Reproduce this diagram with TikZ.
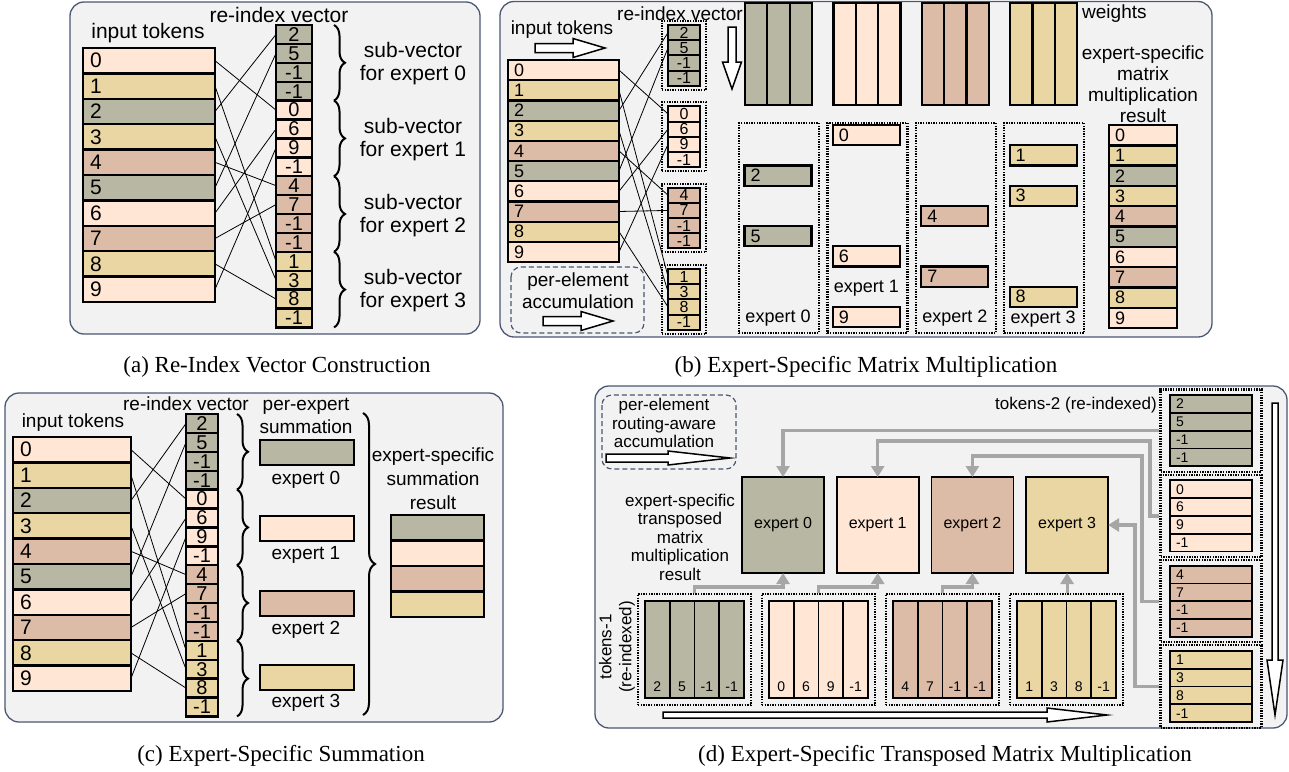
\documentclass[tikz,border=0pt]{standalone}
\usepackage{fontspec}
\setmainfont{Liberation Sans}
\newfontfamily\seriffont{Liberation Serif}
\usetikzlibrary{arrows.meta,decorations.pathreplacing,fit,calc}
\definecolor{cP}{HTML}{FFE6D5}
\definecolor{cT}{HTML}{E9D6A2}
\definecolor{cG}{HTML}{B7B7A3}
\definecolor{cR}{HTML}{DDBCA7}
\definecolor{bgc}{HTML}{F2F2F2}
\definecolor{frc}{HTML}{4A5874}
\definecolor{arc}{HTML}{A6A6A6}
\colorlet{g0}{cG}\colorlet{g1}{cP}\colorlet{g2}{cR}\colorlet{g3}{cT}
\newcommand\fsz[2]{\fontsize{#1}{#2}\selectfont}
% x1,x2,y,shaft half,head half,head length
\newcommand\harrow[6]{\draw[barrow] (#1,#3-#4) -- (#2-#6,#3-#4) -- (#2-#6,#3-#5) -- (#2,#3) -- (#2-#6,#3+#5) -- (#2-#6,#3+#4) -- (#1,#3+#4) -- cycle;}
% y1,y2,x,shaft half,head half,head length
\newcommand\varrow[6]{\draw[barrow] (#3-#4,#1) -- (#3-#4,#2-#6) -- (#3-#5,#2-#6) -- (#3,#2) -- (#3+#5,#2-#6) -- (#3+#4,#2-#6) -- (#3+#4,#1) -- cycle;}
\begin{document}
\begin{tikzpicture}[x=1pt,y=-1pt,
 panel/.style={draw=frc, fill=bgc, line width=1.3pt, rounded corners=14pt},
 cb/.style={draw=black, anchor=north west, inner sep=0pt, outer sep=0pt},
 conn/.style={draw=black, line width=0.8pt},
 brc/.style={draw=black, line width=2pt, decorate, decoration={brace, amplitude=#1}},
 dbox/.style={draw=black, line width=2.1pt, dash pattern=on 1.4pt off 1.2pt, inner sep=0pt},
 barrow/.style={draw=black, fill=white, line width=1.5pt, line join=miter},
 garrow/.style={draw=arc, line width=3.2pt, -{Triangle[width=13pt,length=11pt]}},
 txt/.style={inner sep=0pt, align=center},
]
\useasboundingbox (0,0) rectangle (1289,771);

%================ (a) =================
\draw[panel] (70,2) rectangle (480,334);
\node[txt, font=\fsz{21}{24}] (a-lt) at (148,33) {input tokens};
\node[txt, font=\fsz{21}{24}] (a-lr) at (279,15) {re-index vector};
\foreach \c [count=\i from 0] in {cP,cT,cG,cT,cR,cG,cP,cR,cT,cP}
  \node[cb, line width=2.4pt, fill=\c, minimum height=25.4pt, text width=118pt, inner xsep=7pt, align=left, font=\fsz{21}{24}] (a-t\i) at (83,48+25.4*\i) {\i};
\foreach \v [count=\k from 0] in {2,5,-1,-1,0,6,9,-1,4,7,-1,-1,1,3,8,-1} {
  \pgfmathtruncatemacro\g{\k/4}
  \node[cb, line width=2.4pt, fill=g\g, minimum width=36pt, minimum height=18.9pt, font=\fsz{20}{20}] (a-r\k) at (276,25+18.9*\k) {\v};
}
\foreach \k/\v in {0/2,1/5,4/0,5/6,6/9,8/4,9/7,12/1,13/3,14/8}
  \draw[conn] (a-t\v.east) -- (a-r\k.west);
\foreach \g in {0,1,2,3} {
  \draw[brc=11pt] (334,25+75.6*\g) -- (334,100.6+75.6*\g);
  \node[txt, font=\fsz{21}{23}] (a-s\g) at (413,64+75.6*\g) {sub-vector\\for expert \g};
}
\node[txt, font=\seriffont\fsz{23}{26}] (cap-a) at (277,367) {(a) Re-Index Vector Construction};

%================ (b) =================
\draw[panel] (500,1.5) rectangle (1212,337);
\node[txt, font=\fsz{19}{21}] (b-lt) at (562,30) {input tokens};
\node[txt, font=\fsz{19}{21}] (b-lr) at (680,14) {re-index vector};
\harrow{535}{605}{48}{4.5}{9.5}{32}
\varrow{27}{89}{732}{4}{9.5}{27}
\foreach \c [count=\i from 0] in {cP,cT,cG,cT,cR,cG,cP,cR,cT,cP}
  \node[cb, line width=2.2pt, fill=\c, minimum height=20.2pt, text width=99pt, inner xsep=6pt, align=left, font=\fsz{18}{20}] (b-t\i) at (508,60+20.2*\i) {\i};
\foreach \vals [count=\g from 0] in {{2,5,-1,-1},{0,6,9,-1},{4,7,-1,-1},{1,3,8,-1}} {
  \foreach \v [count=\j from 0] in \vals {
    \node[cb, line width=2pt, fill=g\g, minimum width=32pt, minimum height=15.2pt, font=\fsz{16}{16}] (b-r\g-\j) at (668,25+81.3*\g+15.2*\j) {\v};
  }
  \node[dbox, fit=(b-r\g-0)(b-r\g-3), inner xsep=6pt, inner ysep=4pt] (b-g\g) {};
}
\foreach \v/\g/\j in {2/0/0,5/0/1,0/1/0,6/1/1,9/1/2,4/2/0,7/2/1,1/3/0,3/3/1,8/3/2}
  \draw[conn] (b-t\v.east) -- (b-r\g-\j.west);
\foreach \c [count=\w from 0] in {cG,cP,cR,cT}
  \foreach \j in {0,1,2}
    \node[cb, line width=2.2pt, fill=\c, minimum width=22.33pt, minimum height=102pt] (b-w\w-\j) at (745+88.4*\w+22.33*\j,3) {};
\node[txt, anchor=west, font=\fsz{19}{21}] (b-lw) at (1082,14) {weights};
\node[txt, font=\fsz{19}{21}] (b-lm) at (1143,84) {expert-specific\\matrix\\multiplication\\result};
\foreach \e in {0,...,3}
  \node[dbox, anchor=north west, minimum width=80pt, minimum height=210pt] (b-e\e) at (738+88.4*\e,122) {};
\foreach \e/\r/\c in {0/2/cG,0/5/cG,1/0/cP,1/6/cP,1/9/cP,2/4/cR,2/7/cR,3/1/cT,3/3/cT,3/8/cT}
  \node[cb, line width=2.2pt, fill=\c, minimum height=20.2pt, text width=55pt, inner xsep=6pt, align=left, font=\fsz{18}{20}] (b-b\r) at (744.5+88.4*\e,125+20.2*\r) {\r};
\foreach \e/\y in {0/318,1/288,2/318,3/319}
  \node[txt, font=\fsz{18}{20}] (b-l\e) at (778+88.4*\e,\y) {expert \e};
\foreach \c [count=\i from 0] in {cP,cT,cG,cT,cR,cG,cP,cR,cT,cP}
  \node[cb, line width=2.4pt, fill=\c, minimum height=20.3pt, text width=56pt, inner xsep=6pt, align=left, font=\fsz{18}{20}] (b-o\i) at (1109,125+20.3*\i) {\i};
\draw[draw=frc, line width=1.2pt, dash pattern=on 5pt off 3pt, rounded corners=10pt] (511,267) rectangle (644,333);
\node[txt, font=\fsz{19}{22}] (b-la) at (578,291) {per-element\\accumulation};
\harrow{543}{613}{321}{4.5}{9.5}{32}
\node[txt, font=\seriffont\fsz{23}{26}] (cap-b) at (866,367) {(b) Expert-Specific Matrix Multiplication};

%================ (c) =================
\draw[panel] (5,393) rectangle (503,722);
\node[txt, font=\fsz{19}{21}] (c-lt) at (73,423) {input tokens};
\node[txt, font=\fsz{19}{21}] (c-lr) at (186,404) {re-index vector};
\foreach \c [count=\i from 0] in {cP,cT,cG,cT,cR,cG,cP,cR,cT,cP}
  \node[cb, line width=2.4pt, fill=\c, minimum height=25.4pt, text width=104pt, inner xsep=7pt, align=left, font=\fsz{21}{24}] (c-t\i) at (13,437+25.4*\i) {\i};
\foreach \v [count=\k from 0] in {2,5,-1,-1,0,6,9,-1,4,7,-1,-1,1,3,8,-1} {
  \pgfmathtruncatemacro\g{\k/4}
  \node[cb, line width=2.4pt, fill=g\g, minimum width=32pt, minimum height=18.9pt, font=\fsz{20}{20}] (c-r\k) at (186,414+18.9*\k) {\v};
}
\foreach \k/\v in {0/2,1/5,4/0,5/6,6/9,8/4,9/7,12/1,13/3,14/8}
  \draw[conn] (c-t\v.east) -- (c-r\k.west);
\foreach \g in {0,1,2,3}
  \draw[brc=11pt] (237,414+75.6*\g) -- (237,489.6+75.6*\g);
\node[txt, font=\fsz{19}{23}] (c-lp) at (306,416) {per-expert\\summation};
\foreach \c/\y/\ly [count=\e from 0] in {cG/440/480,cP/516/555,cR/591/630,cT/665/703} {
  \node[cb, line width=2.4pt, fill=\c, minimum width=94pt, minimum height=25pt] (c-b\e) at (260,\y) {};
  \node[txt, font=\fsz{19}{21}] (c-l\e) at (306,\ly) {expert \e};
}
\draw[brc=12pt] (363,413) -- (363,715);
\node[txt, font=\fsz{19}{24}] (c-lm) at (433,479) {expert-specific\\summation\\result};
\foreach \c [count=\i from 0] in {cG,cP,cR,cT}
  \node[cb, line width=2.4pt, fill=\c, minimum width=93pt, minimum height=25.5pt] (c-o\i) at (391,515+25.5*\i) {};
\node[txt, font=\seriffont\fsz{23}{26}] (cap-c) at (281,756) {(c) Expert-Specific Summation};

%================ (d) =================
\draw[panel] (595,386) rectangle (1287,728);
\draw[draw=frc, line width=1.2pt, dash pattern=on 5pt off 3pt, rounded corners=10pt] (602,395) rectangle (736,469);
\node[txt, font=\fsz{17}{18.5}] (d-la) at (664,423) {per-element\\routing-aware\\accumulation};
\harrow{606}{730}{458}{4}{7}{62}
\node[txt, font=\fsz{17}{18.5}] (d-lm) at (680,537) {expert-specific\\transposed\\matrix\\multiplication\\result};
\foreach \e in {0,...,3}
  \node[cb, line width=1.8pt, fill=g\e, minimum width=82pt, minimum height=96pt, font=\fsz{16}{18}] (d-e\e) at (742+94.7*\e,477) {expert \e};
\foreach \vals [count=\g from 0] in {{2,5,-1,-1},{0,6,9,-1},{4,7,-1,-1},{1,3,8,-1}} {
  \foreach \v [count=\j from 0] in \vals {
    \node[cb, line width=1.8pt, fill=g\g, minimum width=24.75pt, minimum height=97pt] (d-c\g-\j) at (645+124*\g+24.75*\j,601) {};
    \node[txt, font=\fsz{14}{16}] (d-n\g-\j) at ($(d-c\g-\j.south)+(0,-11)$) {\v};
    \node[cb, line width=1.8pt, fill=g\g, minimum height=17.8pt, text width=70pt, inner xsep=6pt, align=left, font=\fsz{14}{16}] (d-s\g-\j) at (1170,395+85.3*\g+17.8*\j) {\v};
  }
  \node[dbox, fit=(d-c\g-0)(d-c\g-3), inner sep=7pt] (d-g\g) {};
  \node[dbox, fit=(d-s\g-0)(d-s\g-3), inner xsep=9.5pt, inner ysep=5.5pt] (d-b\g) {};
}
\node[txt, rotate=90, font=\fsz{17}{20}] (d-lt1) at (617,647) {tokens-1\\(re-indexed)};
\node[txt, anchor=east, font=\fsz{17}{20}] (d-lt2) at (1157,405) {tokens-2 (re-indexed)};
\harrow{663}{1107}{715}{3}{7}{60}
\varrow{403}{715}{1275}{3}{8}{55}
% gray routing arrows
\coordinate (d-w1) at (1150,441);
\coordinate (d-w2) at (1142,456);
\coordinate (d-w3) at (1135,525);
\draw[garrow] (d-b0.west) -| (d-e0.north);
\draw[garrow] (d-b1.west) -| (d-w1) -| (d-e1.north);
\draw[garrow] (d-b2.west) -| (d-w2) -| (d-e2.north);
\draw[garrow] (d-b3.west) -| (d-w3) -- (d-e3.east);
\draw[garrow] (d-g0.north) -- ++(0,-6) -| (d-e0.south);
\draw[garrow] (d-g1.north) -- ++(0,-6) -| (d-e1.south);
\draw[garrow] (d-g2.north) -- ++(0,-6) -| (d-e2.south);
\draw[garrow] (d-e3.south |- d-g3.north) -- (d-e3.south);
\node[txt, font=\seriffont\fsz{23}{26}] (cap-d) at (945,756) {(d) Expert-Specific Transposed Matrix Multiplication};
\end{tikzpicture}
\end{document}
